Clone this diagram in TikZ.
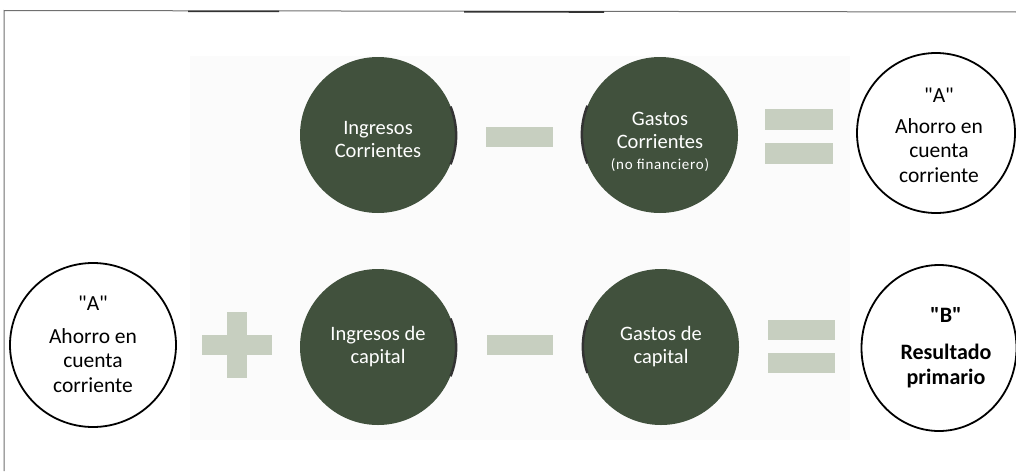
\documentclass[tikz,border=0pt]{standalone}
\usepackage{fontspec}
\usetikzlibrary{shapes.geometric}
\setmainfont{Carlito}
\newfontfamily\spacedfont[LetterSpace=5]{Carlito}
\newfontfamily\qfont[Ligatures=TeXOff]{Carlito}
\definecolor{darkc}{HTML}{41513D}
\definecolor{opc}{HTML}{C7CFC0}
\definecolor{framec}{HTML}{707070}
\begin{document}
\begin{tikzpicture}[x=1pt,y=-1pt,
  darkcirc/.style={circle, fill=darkc, minimum size=156pt, inner sep=0pt},
  darktext/.style={text=white, font=\fontsize{20.5}{23}\selectfont, align=center, anchor=base, inner sep=0pt},
  whitecirc/.style={ellipse, draw=black, line width=1.8pt, fill=white, inner sep=0pt},
  wtext/.style={font=\fontsize{21.5}{24.2}\selectfont, align=center, anchor=base, inner sep=0pt},
  btext/.style={font=\bfseries\fontsize{22}{24.5}\selectfont, align=center, anchor=base, inner sep=0pt},
  shade/.style={line width=2.5pt, black!80},
  opbar/.style={fill=opc, draw=none}]
\useasboundingbox (0,0) rectangle (1016,471);
\fill[white] (0,0) rectangle (1016,471);
\fill[black!1.5] (190,56) rectangle (850,440);
% frame
\draw[framec, line width=1pt] (4,471) -- (4,10.5) -- (1016,12);
\draw[black!80, line width=1.6pt] (188,11.3) -- (279,11.4);
\draw[black!80, line width=1.6pt] (464,11.8) -- (604,12);
% dark circles
\node[darkcirc] (ic) at (378,135) {};
\node[darkcirc] (gc) at (660,135) {};
\node[darkcirc] (ik) at (378,347) {};
\node[darkcirc] (gk) at (661,347) {};
\draw[shade] (ic.-22) arc[start angle=-22, end angle=22, radius=77pt];
\draw[shade] (gc.158) arc[start angle=158, end angle=202, radius=77pt];
\draw[shade] (ik.-22) arc[start angle=-22, end angle=22, radius=77pt];
\draw[shade] (gk.160) arc[start angle=160, end angle=200, radius=77pt];
\node[darktext] (ict) at (378,157) {Ingresos\\Corrientes};
\node[darktext] (gct) at (660,148) {Gastos\\Corrientes};
\node[darktext, font=\spacedfont\fontsize{15}{17}\selectfont] (gcn) at (660,169) {(no financiero)};
\node[darktext] (ikt) at (378,363) {Ingresos de\\capital};
\node[darktext] (gkt) at (661,363) {Gastos de\\capital};
% white circles
\node[whitecirc, minimum width=158pt, minimum height=160pt] (ra) at (936,133) {};
\node[wtext, font=\qfont\fontsize{21.5}{24.2}\selectfont] (raq) at (939,102) {"A"};
\node[wtext] (rat) at (939,182) {Ahorro en\\cuenta\\corriente};
\node[whitecirc, minimum width=166pt, minimum height=164pt] (la) at (93,345) {};
\node[wtext, font=\qfont\fontsize{21.5}{24.2}\selectfont] (laq) at (93,310) {"A"};
\node[wtext] (lat) at (93,392) {Ahorro en\\cuenta\\corriente};
\node[whitecirc, minimum width=155pt, minimum height=166pt] (rb) at (939,348) {};
\node[btext, font=\qfont\bfseries\fontsize{22}{24.5}\selectfont] (rbq) at (946,322) {"B"};
\node[btext] (rbt) at (946,384) {Resultado\\primario};
% operators
\fill[opbar] (486,127) rectangle (553,147);
\fill[opbar] (487,335) rectangle (553,355);
\fill[opbar] (765,109) rectangle (833,130);
\fill[opbar] (765,143) rectangle (833,164);
\fill[opbar] (768,320) rectangle (835,340);
\fill[opbar] (768,353) rectangle (835,373);
\fill[opbar] (202,335) rectangle (272,355);
\fill[opbar] (227,312) rectangle (247,378);
\end{tikzpicture}
\end{document}
